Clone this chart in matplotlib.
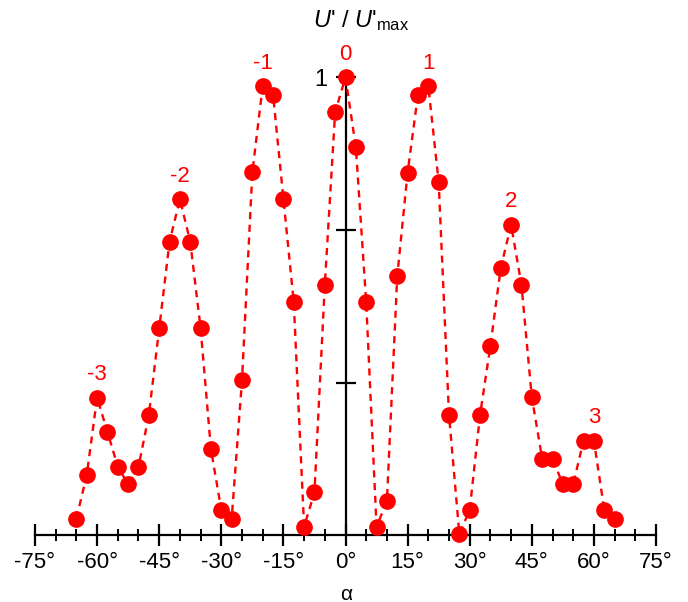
import numpy as np
import matplotlib.pyplot as plt

plt.rcParams['font.family'] = ['Liberation Sans', 'DejaVu Sans']
plt.rcParams['mathtext.fontset'] = 'custom'
plt.rcParams['mathtext.rm'] = 'Liberation Sans'
plt.rcParams['mathtext.it'] = 'Liberation Sans:italic'

# angle (deg) and normalised amplitude
alpha = [-65, -62.5, -60, -57.5, -55, -52.5, -50, -47.5, -45, -42.5, -40, -37.5,
         -35, -32.5, -30, -27.5, -25, -22.5, -20, -17.5, -15, -12.5, -10, -7.5,
         -5, -2.5, 0, 2.5, 5, 7.5, 10, 12.5, 15, 17.5, 20, 22.5, 25, 27.5, 30,
         32.5, 35, 37.5, 40, 42.5, 45, 47.5, 50, 52.5, 55, 57.5, 60, 62.5, 65]
amp = [0.037, 0.132, 0.301, 0.226, 0.150, 0.112, 0.150, 0.263, 0.452, 0.641,
       0.734, 0.641, 0.452, 0.188, 0.056, 0.036, 0.339, 0.793, 0.981, 0.962,
       0.735, 0.509, 0.019, 0.094, 0.547, 0.924, 1.0, 0.847, 0.509, 0.019,
       0.075, 0.566, 0.792, 0.962, 0.981, 0.772, 0.263, 0.003, 0.056, 0.263,
       0.414, 0.584, 0.678, 0.547, 0.302, 0.168, 0.168, 0.112, 0.112, 0.207,
       0.207, 0.056, 0.037]

# diffraction order labels
order_x = [-60, -40, -20, 0, 20, 40, 60]
order_y = [0.301, 0.734, 0.981, 1.0, 0.981, 0.678, 0.207]
order_txt = ['-3', '-2', '-1', '0', '1', '2', '3']

xticks = [-75, -60, -45, -30, -15, 0, 15, 30, 45, 60, 75]
yticks = [1/3, 2/3, 1]
ytick_labels = ['', '', '1']

fig = plt.figure(figsize=(6.88, 6.02), dpi=100)
ax = fig.add_axes([35/688, 0.1105, 621/688, 0.8372])

ax.plot(alpha, amp, color='red', linestyle=(0, (3, 2.4)), linewidth=1.7,
        marker='o', markersize=11, markerfacecolor='red', markeredgecolor='red',
        clip_on=False, zorder=3)

for x, y, t in zip(order_x, order_y, order_txt):
    ax.annotate(t, (x, y), xytext=(0, 9), textcoords='offset points',
                ha='center', va='bottom', color='red', fontsize=16)

ax.set_xlim(-75, 75)
ax.set_ylim(0, 1.1)

ax.spines['left'].set_position(('data', 0))
ax.spines['left'].set_bounds(0, 1)
ax.spines['right'].set_visible(False)
ax.spines['top'].set_visible(False)
ax.spines['left'].set_linewidth(1.6)
ax.spines['bottom'].set_linewidth(1.6)

ax.set_xticks(xticks)
ax.set_xticklabels([str(v) + '°' for v in xticks])
ax.set_xticks(np.arange(-75, 76, 5), minor=True)
ax.tick_params(axis='x', which='major', direction='inout', length=16, width=1.6,
               labelsize=16, pad=4)
ax.tick_params(axis='x', which='minor', direction='inout', length=8, width=1.4)

ax.set_yticks(yticks)
ax.set_yticklabels(ytick_labels)
ax.tick_params(axis='y', which='major', direction='inout', length=14, width=1.6,
               labelsize=17, pad=6)

fig.text(313/688, 1 - 21/602, "$U$' / $U$'$_{\\mathrm{max}}$", ha='left', va='center',
         fontsize=17)
fig.text(346/688, 1 - 594/602, 'α', ha='center', va='center', fontsize=15)

fig.savefig('out.png', dpi=100)
